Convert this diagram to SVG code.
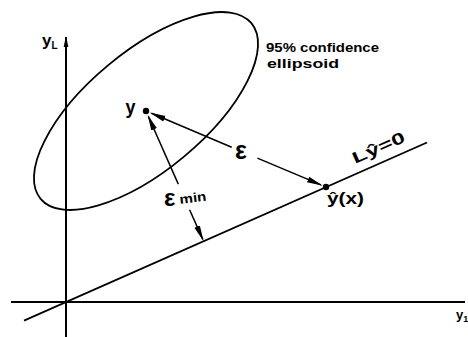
<svg xmlns="http://www.w3.org/2000/svg" width="468" height="337" viewBox="0 0 468 337">
<style>
  .ln{stroke:#000;fill:none;stroke-linecap:butt}
  .ax{stroke-width:2}
  .thin{stroke-width:1.5}
  .t{font-family:"Liberation Sans",Arial,sans-serif;font-weight:bold;fill:#000}
</style>
<defs>
  <marker id="ah" markerUnits="userSpaceOnUse" markerWidth="18" markerHeight="8" refX="14" refY="4" orient="auto">
    <path d="M0,1 L16,4 L0,7 Z" fill="#000"/>
  </marker>
  <marker id="axh" markerUnits="userSpaceOnUse" markerWidth="12" markerHeight="8" refX="10" refY="4" orient="auto">
    <path d="M0,1.6 L11,4 L0,6.4 Z" fill="#000"/>
  </marker>
</defs>
<rect width="468" height="337" fill="#fff"/>

<g id="axes">
  <line class="ln ax" x1="66" y1="337" x2="66" y2="37" marker-end="url(#axh)"/>
  <line class="ln ax" x1="11" y1="302" x2="465" y2="302"/>
  <text class="t" x="42" y="46" font-size="17">y<tspan font-size="10" dy="3">L</tspan></text>
  <text class="t" x="456" y="319" font-size="13">y<tspan font-size="9" dy="3">1</tspan></text>
</g>

<g id="ellipsoid">
  <ellipse class="ln" cx="146" cy="111" rx="137.2" ry="59.4" transform="rotate(-39.8 146 111)" stroke-width="1.8"/>
  <text class="t" x="266" y="52" font-size="13.5" textLength="113" lengthAdjust="spacingAndGlyphs">95% confidence</text>
  <text class="t" x="267" y="68" font-size="13.5" textLength="72" lengthAdjust="spacingAndGlyphs">ellipsoid</text>
</g>

<g id="line-L">
  <line class="ln" x1="24" y1="320.6" x2="427" y2="142.5" stroke-width="1.8"/>
  <text class="t" x="355" y="164" font-size="16" textLength="56" lengthAdjust="spacingAndGlyphs" transform="rotate(-23.8 355 164)">Lŷ=0</text>
</g>

<g id="point-y">
  <circle cx="146" cy="111" r="3.2" fill="#000"/>
  <text class="t" x="125.5" y="113.5" font-size="20" textLength="10" lengthAdjust="spacingAndGlyphs">y</text>
</g>

<g id="point-yhat">
  <circle cx="326" cy="187" r="3.2" fill="#000"/>
  <text class="t" x="327" y="204" font-size="16" textLength="37" lengthAdjust="spacingAndGlyphs">ŷ(x)</text>
</g>

<g id="connectors">
  <line class="ln thin" x1="231.7" y1="147.2" x2="151.5" y2="113.3" marker-end="url(#ah)"/>
  <line class="ln thin" x1="257.4" y1="158.1" x2="321" y2="184.9" marker-end="url(#ah)"/>
  <line class="ln thin" x1="178.3" y1="184.1" x2="148.4" y2="116.5" marker-end="url(#ah)"/>
  <line class="ln thin" x1="189.6" y1="209.7" x2="202.8" y2="239.4" marker-end="url(#ah)"/>
  <text class="t" x="235" y="159" font-size="25">ε</text>
  <text class="t" x="164" y="205.5" font-size="24">ε</text>
  <text class="t" x="180" y="204" font-size="13" textLength="27" lengthAdjust="spacingAndGlyphs" transform="rotate(-7 180 204)">min</text>
</g>
</svg>
